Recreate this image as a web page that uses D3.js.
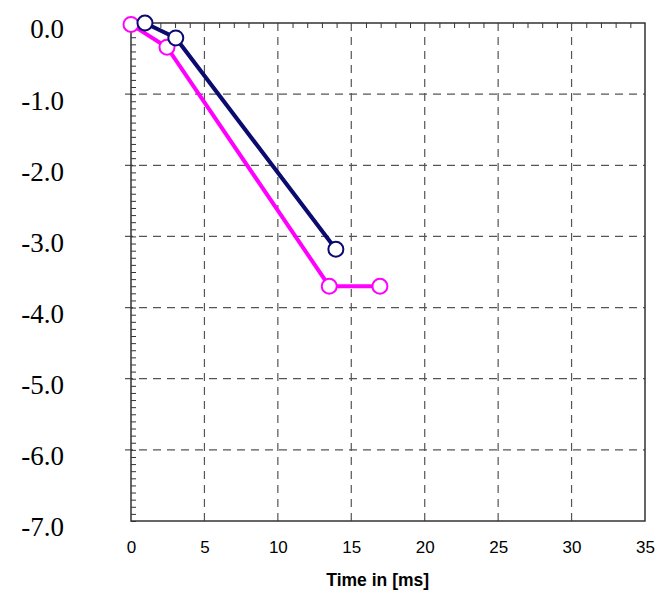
<!DOCTYPE html>
<html>
<head>
<meta charset="utf-8">
<script src="https://cdn.jsdelivr.net/npm/d3@7"></script>
<style>
  body { margin: 0; background: #fff; }
</style>
</head>
<body>
<svg id="chart" width="660" height="593"></svg>
<script>
// series
var navyTime = [0.95, 3.05, 13.95]
var navyValue = [0.0, -0.21, -3.18]
var pinkTime = [0.0, 2.45, 13.5, 16.95]
var pinkValue = [-0.02, -0.34, -3.70, -3.70]

var xTicks = [0, 5, 10, 15, 20, 25, 30, 35]
var yTicks = [0, -1, -2, -3, -4, -5, -6, -7]

var dimensions = {
    width: 660,
    height: 593,
    margin: { top: 23, right: 15, bottom: 72, left: 131 }
}
dimensions.boundedWidth = dimensions.width - dimensions.margin.left - dimensions.margin.right
dimensions.boundedHeight = dimensions.height - dimensions.margin.top - dimensions.margin.bottom

var svg = d3.select("#chart")

var xScale = d3.scaleLinear().domain([0, 35]).range([0, dimensions.boundedWidth])
var yScale = d3.scaleLinear().domain([-7, 0]).range([dimensions.boundedHeight, 0])

var bounds = svg.append("g")
    .attr("transform", "translate(" + dimensions.margin.left + "," + dimensions.margin.top + ")")

// dashed grid
bounds.selectAll(".vgrid")
    .data(xTicks.slice(1, -1))
    .enter().append("line")
    .attr("x1", d => xScale(d)).attr("x2", d => xScale(d))
    .attr("y1", 0).attr("y2", dimensions.boundedHeight)
    .attr("stroke", "#555").attr("stroke-width", 1.2)
    .attr("stroke-dasharray", "8,6")

bounds.selectAll(".hgrid")
    .data(yTicks.slice(1, -1))
    .enter().append("line")
    .attr("x1", -6).attr("x2", dimensions.boundedWidth)
    .attr("y1", d => yScale(d)).attr("y2", d => yScale(d))
    .attr("stroke", "#555").attr("stroke-width", 1.2)
    .attr("stroke-dasharray", "8,6")

// minor ticks, inside the frame
var leftAxis = d3.axisRight(yScale)
    .tickValues(d3.range(-70, 1).map(d => d / 10))
    .tickSize(5).tickFormat("")
bounds.append("g").call(leftAxis)
    .call(g => g.select(".domain").remove())
    .selectAll("line").attr("stroke", "#333")

var topAxis = d3.axisBottom(xScale)
    .tickValues(d3.range(0, 36).filter(d => d % 5 != 0))
    .tickSize(5).tickFormat("")
bounds.append("g").call(topAxis)
    .call(g => g.select(".domain").remove())
    .selectAll("line").attr("stroke", "#333")

// frame
bounds.append("rect")
    .attr("width", dimensions.boundedWidth)
    .attr("height", dimensions.boundedHeight)
    .attr("fill", "none")
    .attr("stroke", "#333")
    .attr("stroke-width", 1.5)

// tick labels
var xAxis = d3.axisBottom(xScale).tickValues(xTicks).tickSize(0).tickPadding(20)
bounds.append("g")
    .attr("transform", "translate(0," + dimensions.boundedHeight + ")")
    .call(xAxis)
    .call(g => g.select(".domain").remove())
    .selectAll("text")
    .attr("font-family", "Liberation Sans, Arial, sans-serif")
    .attr("font-size", 17)
    .attr("fill", "#000")

var yAxis = d3.axisLeft(yScale).tickValues(yTicks).tickSize(0).tickPadding(67)
    .tickFormat(d => d3.format(".1f")(d).replace("\u2212", "-"))
bounds.append("g")
    .call(yAxis)
    .call(g => g.select(".domain").remove())
    .selectAll("text")
    .attr("font-family", "Liberation Serif, Times New Roman, serif")
    .attr("font-size", 27)
    .attr("fill", "#000")
    .attr("dy", "0.55em")

svg.append("text")
    .attr("x", dimensions.margin.left + xScale(16.8))
    .attr("y", 586)
    .attr("text-anchor", "middle")
    .attr("font-family", "Liberation Sans, Arial, sans-serif")
    .attr("font-weight", "bold")
    .attr("font-size", 17.5)
    .text("Time in [ms]")

// series
var series = [
    { color: "#ff00ff", pts: d3.zip(pinkTime, pinkValue) },
    { color: "#0a0a70", pts: d3.zip(navyTime, navyValue) }
]

var line = d3.line().x(d => xScale(d[0])).y(d => yScale(d[1]))

series.forEach(function (s) {
    bounds.append("path")
        .datum(s.pts)
        .attr("d", line)
        .attr("fill", "none")
        .attr("stroke", s.color)
        .attr("stroke-width", 4)
    bounds.selectAll(null)
        .data(s.pts)
        .enter().append("circle")
        .attr("cx", d => xScale(d[0]))
        .attr("cy", d => yScale(d[1]))
        .attr("r", 7.5)
        .attr("fill", "#fff")
        .attr("stroke", s.color)
        .attr("stroke-width", 2)
})
</script>
</body>
</html>
